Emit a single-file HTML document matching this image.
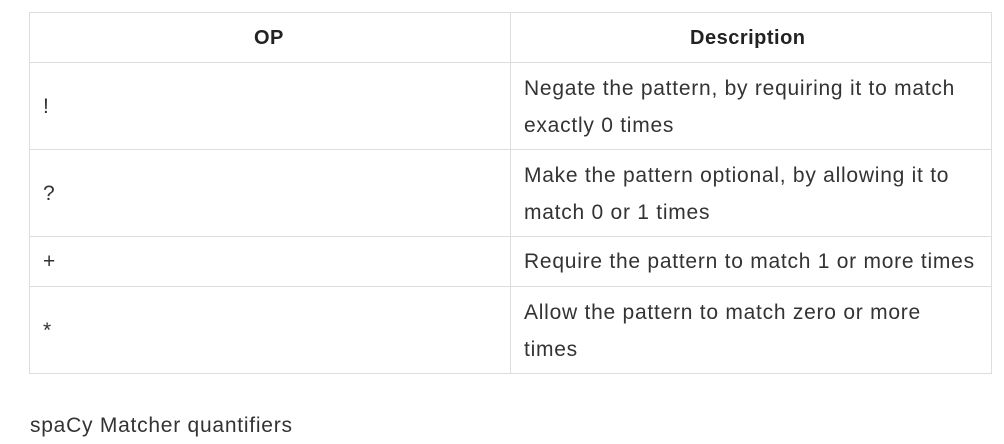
<!DOCTYPE html>
<html><head><style>
body{margin:0;width:1004px;height:444px;background:#fff;font-family:"Liberation Sans",sans-serif;color:#333;position:relative;overflow:hidden}
.l{position:absolute;background:#dddddd}
.t{position:absolute;font-size:21px;white-space:nowrap;line-height:37px;letter-spacing:0.75px}
.h{font-weight:bold;font-size:20px;color:#222;letter-spacing:0.5px}
</style></head><body>
<div class="l" style="left:29px;top:12px;width:963px;height:1px"></div>
<div class="l" style="left:29px;top:62px;width:963px;height:1px"></div>
<div class="l" style="left:29px;top:149px;width:963px;height:1px"></div>
<div class="l" style="left:29px;top:236px;width:963px;height:1px"></div>
<div class="l" style="left:29px;top:286px;width:963px;height:1px"></div>
<div class="l" style="left:29px;top:373px;width:963px;height:1px"></div>
<div class="l" style="left:29px;top:12px;width:1px;height:362px"></div>
<div class="l" style="left:510px;top:12px;width:1px;height:362px"></div>
<div class="l" style="left:991px;top:12px;width:1px;height:362px"></div>
<div class="t h" style="left:254px;top:20px">OP</div>
<div class="t h" style="left:690px;top:20px">Description</div>
<div class="t" style="left:43px;top:88px">!</div>
<div class="t" style="left:43px;top:175px">?</div>
<div class="t" style="left:43px;top:243px">+</div>
<div class="t" style="left:43px;top:312px">*</div>
<div class="t" style="left:524px;top:70px">Negate the pattern, by requiring it to match<br>exactly 0 times</div>
<div class="t" style="left:524px;top:157px">Make the pattern optional, by allowing it to<br>match 0 or 1 times</div>
<div class="t" style="left:524px;top:243px">Require the pattern to match 1 or more times</div>
<div class="t" style="left:524px;top:294px">Allow the pattern to match zero or more<br>times</div>
<div class="t" style="left:30px;top:407px">spaCy Matcher quantifiers</div>
</body></html>
